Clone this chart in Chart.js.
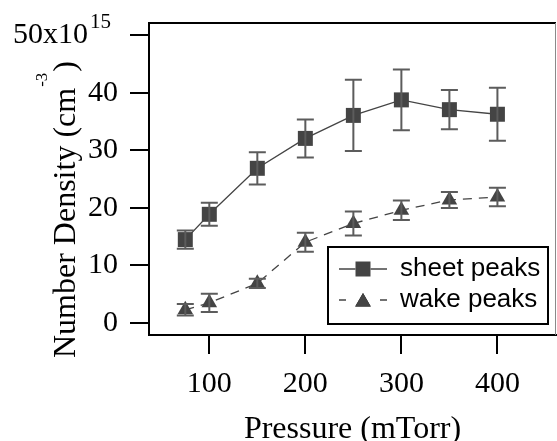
<!DOCTYPE html>
<html>
<head>
<meta charset="utf-8">
<script src="https://cdn.jsdelivr.net/npm/chart.js@4.4.0/dist/chart.umd.min.js"></script>
<style>
html, body { margin: 0; padding: 0; background: #fff; }
</style>
</head>
<body>
<canvas id="grafica" width="557" height="441"></canvas>
<script>
// datos
const pressure = [75, 100, 150, 200, 250, 300, 350, 400];
const sheetPeaks = [14.5, 18.9, 26.9, 32.1, 36.1, 38.8, 37.1, 36.3];
const sheetErr = [1.6, 2.0, 2.8, 3.3, 6.2, 5.3, 3.4, 4.6];
const wakePeaks = [2.3, 3.5, 6.9, 14.05, 17.3, 19.6, 21.4, 21.9];
const wakeErr = [1.0, 1.6, 0.8, 1.65, 2.1, 1.7, 1.4, 1.6];
const xTicks = [100, 200, 300, 400];
const yTicks = [0, 10, 20, 30, 40, 50];

const serif = "'Liberation Serif', 'Times New Roman', serif";
const sans = "'Liberation Sans', Arial, sans-serif";
const gris = '#444444';
const TICK_LEN = 19;
const TICK_PAD = 12;
const SUP_GAP = '    ';

const extras = {
    id: 'extras',
    afterDatasetsDraw(chart) {
        const { ctx, scales: { x, y } } = chart;
        ctx.save();
        ctx.strokeStyle = '#5c5c5c';
        ctx.lineWidth = 2;
        [[sheetPeaks, sheetErr], [wakePeaks, wakeErr]].forEach(([vals, errs]) => {
            vals.forEach((v, i) => {
                const px = x.getPixelForValue(pressure[i]);
                const top = y.getPixelForValue(v + errs[i]);
                const bot = y.getPixelForValue(v - errs[i]);
                ctx.beginPath();
                ctx.moveTo(px, top); ctx.lineTo(px, bot);
                ctx.moveTo(px - 8.5, top); ctx.lineTo(px + 8.5, top);
                ctx.moveTo(px - 8.5, bot); ctx.lineTo(px + 8.5, bot);
                ctx.stroke();
            });
        });
        ctx.restore();
    },
    afterDraw(chart) {
        const { ctx, chartArea: a, scales: { x, y } } = chart;
        ctx.save();

        // marco superior y borde derecho
        ctx.strokeStyle = '#000';
        ctx.lineWidth = 2;
        ctx.beginPath();
        ctx.moveTo(a.left - 1, a.top);
        ctx.lineTo(a.right, a.top);
        ctx.stroke();
        ctx.strokeStyle = '#8a8a8a';
        ctx.lineWidth = 1;
        ctx.beginPath();
        ctx.moveTo(a.right - 0.5, a.top);
        ctx.lineTo(a.right - 0.5, a.bottom);
        ctx.stroke();

        // exponente de la etiqueta 50
        ctx.fillStyle = '#000';
        ctx.font = '30px ' + serif;
        const gap = ctx.measureText(SUP_GAP).width;
        const y50 = y.getPixelForValue(50);
        const xEnd = y.right - TICK_LEN - TICK_PAD - gap;
        ctx.font = '21px ' + serif;
        ctx.textAlign = 'left';
        ctx.textBaseline = 'alphabetic';
        ctx.fillText('15', xEnd + 2, y50 - 7);

        // titulo eje x
        ctx.font = '32px ' + serif;
        ctx.textAlign = 'center';
        ctx.fillText('Pressure (mTorr)', (a.left + a.right) / 2, 438);

        // titulo eje y con superindice
        ctx.save();
        ctx.translate(75, 358);
        ctx.rotate(-Math.PI / 2);
        ctx.textAlign = 'left';
        ctx.font = '32px ' + serif;
        const t1 = 'Number Density (cm';
        const w1 = ctx.measureText(t1).width;
        ctx.fillText(t1, 0, 0);
        ctx.font = '17px ' + serif;
        ctx.fillText('-3', w1 + 1, -28);
        const w2 = ctx.measureText('-3').width;
        ctx.font = '32px ' + serif;
        ctx.fillText(')', w1 + w2 + 2, 0);
        ctx.restore();

        // leyenda
        const box = { l: 328, t: 247, r: 548, b: 324 };
        ctx.fillStyle = '#fff';
        ctx.fillRect(box.l, box.t, box.r - box.l, box.b - box.t);
        ctx.strokeStyle = '#000';
        ctx.lineWidth = 2;
        ctx.strokeRect(box.l, box.t, box.r - box.l, box.b - box.t);
        const filas = [269, 300];
        chart.data.datasets.forEach((ds, i) => {
            const cy = filas[i];
            ctx.strokeStyle = ds.borderColor;
            ctx.lineWidth = ds.borderWidth;
            ctx.beginPath();
            if (ds.borderDash) {
                ctx.moveTo(339, cy); ctx.lineTo(346, cy);
                ctx.moveTo(380, cy); ctx.lineTo(387, cy);
            } else {
                ctx.moveTo(339, cy); ctx.lineTo(387, cy);
            }
            ctx.stroke();
            Chart.helpers.drawPoint(ctx, {
                pointStyle: ds.pointStyle,
                radius: ds.pointRadius,
                borderWidth: 0
            }, 363, ds.pointStyle === 'triangle' ? cy + 2 : cy);
            ctx.fillStyle = ds.pointBackgroundColor;
            ctx.fill();
            ctx.fillStyle = '#000';
            ctx.font = '26px ' + sans;
            ctx.textAlign = 'left';
            ctx.textBaseline = 'middle';
            ctx.fillText(ds.label, 400, cy);
        });
        ctx.restore();
    }
};

new Chart(document.getElementById('grafica'), {
    type: 'line',
    data: {
        datasets: [{
            label: 'sheet peaks',
            data: pressure.map((p, i) => ({ x: p, y: sheetPeaks[i] })),
            borderColor: gris,
            borderWidth: 1.3,
            pointStyle: 'rect',
            pointRadius: 10.6,
            pointBackgroundColor: gris,
            pointBorderWidth: 0
        }, {
            label: 'wake peaks',
            data: pressure.map((p, i) => ({ x: p, y: wakePeaks[i] })),
            borderColor: gris,
            borderWidth: 1.3,
            borderDash: [9, 7],
            pointStyle: 'triangle',
            pointRadius: 9,
            pointBackgroundColor: gris,
            pointBorderWidth: 0
        }]
    },
    options: {
        responsive: false,
        animation: false,
        layout: { autoPadding: false, padding: { top: 23, right: 1, left: 0, bottom: 0 } },
        plugins: { legend: { display: false }, tooltip: { enabled: false } },
        scales: {
            x: {
                type: 'linear',
                min: 37.2,
                max: 461,
                afterFit: s => { s.height = 106; s.paddingLeft = 0; s.paddingRight = 0; },
                afterBuildTicks: s => { s.ticks = xTicks.map(v => ({ value: v })); },
                border: { display: true, color: '#000', width: 2 },
                grid: { drawOnChartArea: false, drawTicks: true, tickLength: TICK_LEN, color: '#000', lineWidth: 2 },
                ticks: { color: '#000', padding: TICK_PAD, maxRotation: 0, font: { family: serif, size: 30 } }
            },
            y: {
                type: 'linear',
                min: -2.09,
                max: 52.17,
                afterFit: s => { s.width = 149; s.paddingTop = 0; s.paddingBottom = 0; },
                afterBuildTicks: s => { s.ticks = yTicks.map(v => ({ value: v })); },
                border: { display: true, color: '#000', width: 2 },
                grid: { drawOnChartArea: false, drawTicks: true, tickLength: TICK_LEN, color: '#000', lineWidth: 2 },
                ticks: {
                    color: '#000',
                    padding: TICK_PAD,
                    font: { family: serif, size: 30 },
                    callback: v => v === 50 ? '50x10' + SUP_GAP : String(v)
                }
            }
        }
    },
    plugins: [extras]
});
</script>
</body>
</html>
